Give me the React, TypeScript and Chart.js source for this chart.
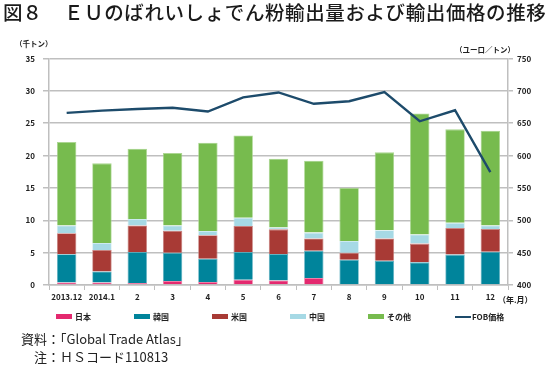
import React, { useEffect, useRef } from "react";
import { Chart, registerables } from "chart.js";

Chart.register(...registerables);

const categories = ["2013.12", "2014.1", "2", "3", "4", "5", "6", "7", "8", "9", "10", "11", "12"];
const japan = [0.4, 0.4, 0.3, 0.6, 0.45, 0.8, 0.7, 1.1, 0, 0, 0, 0, 0];
const korea = [4.35, 1.7, 4.8, 4.4, 3.6, 4.3, 4.1, 4.2, 3.9, 3.75, 3.5, 4.7, 5.15];
const usa = [3.25, 3.3, 4.1, 3.4, 3.65, 4.0, 3.8, 1.9, 1.1, 3.45, 2.9, 4.1, 3.5];
const china = [1.2, 1.1, 1.0, 0.8, 0.65, 1.3, 0.3, 0.9, 1.8, 1.25, 1.4, 0.8, 0.55];
const others = [12.9, 12.3, 10.85, 11.2, 13.65, 12.7, 10.6, 11.1, 8.2, 12.05, 18.7, 14.45, 14.65];
const fobPrice = [666, 669.5, 672, 674, 668, 690, 697.5, 680, 684, 698, 653, 670, 574.5];

const seriesNames = ["日本", "韓国", "米国", "中国", "その他", "FOB価格"];
const colors = ["#E4296F", "#00849B", "#A83A35", "#A6D9E5", "#77BB4E", "#1D4B6B"];
const edgeColors = ["#EE7FA5", "#5FB0C0", "#C67F7C", "#CDEAF1", "#A9D68F"];

const JP = '"Noto Sans CJK JP", "Noto Sans", sans-serif';
const GRID = "#BFBFBF";

export default function App() {
  const ref = useRef<HTMLCanvasElement | null>(null);

  useEffect(() => {
    if (!ref.current) return;
    const barVals = [japan, korea, usa, china, others];
    const tickFont = { family: JP, size: 8, weight: "bold" as const };
    const chart = new Chart(ref.current, {
      type: "bar",
      data: {
        labels: categories,
        datasets: [
          {
            type: "line",
            label: seriesNames[5],
            data: fobPrice,
            yAxisID: "y1",
            borderColor: colors[5],
            backgroundColor: colors[5],
            borderWidth: 2.4,
            pointRadius: 0,
            tension: 0,
            order: 0,
          } as any,
          ...barVals.map((d, i) => ({
            type: "bar",
            label: seriesNames[i],
            data: d,
            yAxisID: "y",
            backgroundColor: colors[i],
            borderColor: edgeColors[i],
            borderWidth: 0.8,
            stack: "s",
            order: 1,
            barPercentage: 0.55,
            categoryPercentage: 1,
          })),
        ],
      },
      options: {
        animation: false,
        responsive: false,
        maintainAspectRatio: false,
        layout: { padding: { top: 28.5, left: 0, right: 0, bottom: 0 } },
        plugins: { legend: { display: false }, tooltip: { enabled: false } },
        scales: {
          x: {
            stacked: true,
            offset: true,
            afterFit: (s: any) => { s.height = 25; },
            grid: { offset: true, drawOnChartArea: false, color: GRID, tickLength: 5, lineWidth: 1 },
            border: { color: GRID, width: 1.5 },
            ticks: { font: tickFont, color: "#222", padding: 2, maxRotation: 0, autoSkip: false },
          },
          y: {
            stacked: true,
            position: "left",
            min: 0,
            max: 35,
            afterFit: (s: any) => { s.width = 49; },
            grid: { color: GRID, lineWidth: 1.5, tickLength: 6 },
            border: { color: GRID, width: 1.5 },
            ticks: { stepSize: 5, font: tickFont, color: "#222", padding: 8 },
          },
          y1: {
            position: "right",
            min: 400,
            max: 750,
            afterFit: (s: any) => { s.width = 42; },
            grid: { drawOnChartArea: false, color: GRID, lineWidth: 1.5, tickLength: 5 },
            border: { color: GRID, width: 1.5 },
            ticks: { stepSize: 50, font: tickFont, color: "#222", padding: 4 },
          },
        },
      },
    } as any);
    return () => chart.destroy();
  }, []);

  const legendX = [56, 134, 212, 290, 368, 455];

  return (
    <div style={{ position: "fixed", left: 0, top: 0, width: 550, height: 366, background: "#fff", fontFamily: JP, color: "#222" }}>
      <div style={{ position: "absolute", left: 3, top: 0, fontSize: 19.5, lineHeight: "24px", whiteSpace: "pre", fontWeight: 500, color: "#1a1a1a" }}>
        図８
      </div>
      <div style={{ position: "absolute", left: 64, top: 0, fontSize: 19.5, letterSpacing: 0.6, lineHeight: "24px", whiteSpace: "pre", fontWeight: 500, color: "#1a1a1a" }}>
        ＥＵのばれいしょでん粉輸出量および輸出価格の推移
      </div>
      <div style={{ position: "absolute", left: 15, top: 39, fontSize: 7.5, lineHeight: "10px", fontWeight: "bold", whiteSpace: "pre" }}>（千トン）</div>
      <div style={{ position: "absolute", left: 455, top: 45, fontSize: 7.5, lineHeight: "10px", fontWeight: "bold", whiteSpace: "pre" }}>（ユーロ／トン）</div>
      <canvas ref={ref} width={550} height={280} style={{ position: "absolute", left: 0, top: 30, width: 550, height: 280 }} />
      <div style={{ position: "absolute", left: 498, top: 295, fontSize: 8, lineHeight: "10px", fontWeight: "bold", whiteSpace: "pre" }}>（年.月）</div>
      {seriesNames.map((n, i) => (
        <div key={n} style={{ position: "absolute", left: legendX[i], top: 311, height: 11, display: "flex", alignItems: "center", whiteSpace: "pre" }}>
          <div style={{ width: 16, height: i === 5 ? 2 : 5, background: colors[i], marginRight: i === 5 ? 1 : 3 }} />
          <span style={{ fontSize: 8, fontWeight: "bold", lineHeight: "11px" }}>{n}</span>
        </div>
      ))}
      <div style={{ position: "absolute", left: 21, top: 330, fontSize: 13, lineHeight: "17px", whiteSpace: "pre" }}>資料：「Global Trade Atlas」</div>
      <div style={{ position: "absolute", left: 34, top: 348, fontSize: 13, lineHeight: "17px", whiteSpace: "pre" }}>注：ＨＳコード110813</div>
    </div>
  );
}
